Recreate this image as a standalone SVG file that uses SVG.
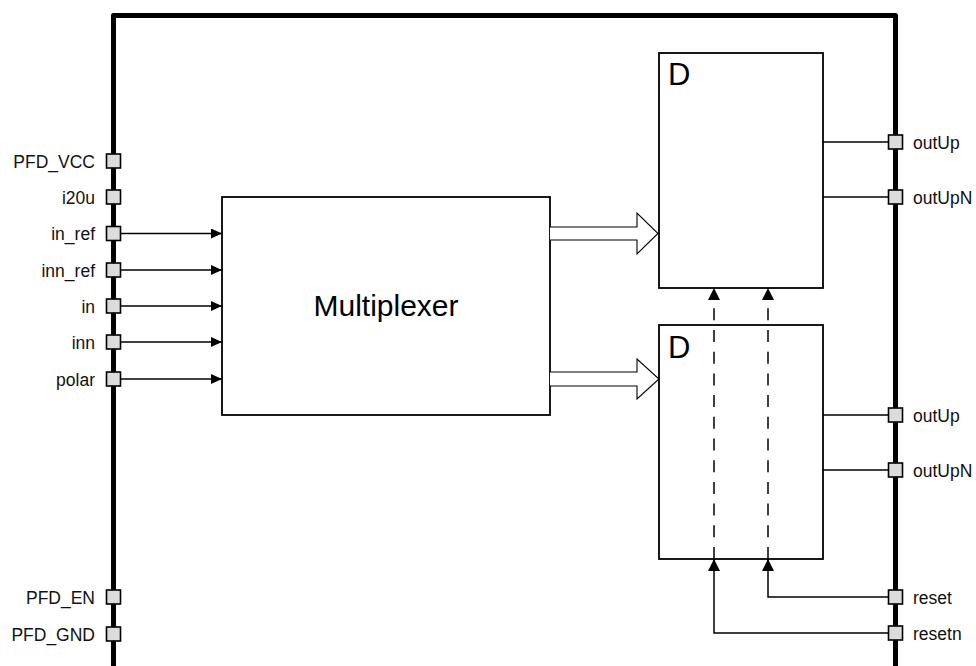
<svg xmlns="http://www.w3.org/2000/svg" width="976" height="666" viewBox="0 0 976 666">
  <defs>
    <style>
      .frame { fill: none; stroke: #000; stroke-width: 5; stroke-linejoin: round; }
      .box { fill: #fff; stroke: #000; stroke-width: 1.8; }
      .port { fill: #dcdcdc; stroke: #000; stroke-width: 1.6; }
      .wire { fill: none; stroke: #000; stroke-width: 1.5; }
      .dash { fill: none; stroke: #000; stroke-width: 1.5; stroke-dasharray: 12 9.7; }
      .bus { fill: #fff; stroke: #000; stroke-width: 1.1; }
      .lbl { font-family: "Liberation Sans", Arial, sans-serif; font-size: 17.5px; fill: #111; }
      .lblL { text-anchor: end; }
      .big { font-family: "Liberation Sans", Arial, sans-serif; font-size: 30px; fill: #000; }
    </style>
    <marker id="arr" viewBox="0 0 12 12" markerWidth="12" markerHeight="12" refX="12" refY="6" orient="auto" markerUnits="userSpaceOnUse">
      <path d="M0,0 L12,6 L0,12 Z" fill="#000"/>
    </marker>
    <marker id="arrS" viewBox="0 0 11 10" markerWidth="11" markerHeight="10" refX="11" refY="5" orient="auto" markerUnits="userSpaceOnUse">
      <path d="M0,0 L11,5 L0,10 Z" fill="#000"/>
    </marker>
  </defs>

  <!-- outer module boundary -->
  <g id="frame">
    <path class="frame" d="M113.5,666 V15.5 H895.5 V666"/>
  </g>

  <!-- blocks -->
  <g id="mux">
    <rect class="box" x="222" y="197" width="328" height="218"/>
    <text class="big" x="386" y="316" text-anchor="middle">Multiplexer</text>
  </g>
  <g id="dff_top">
    <rect class="box" x="659" y="53" width="164" height="235"/>
    <text class="big" x="668" y="85" style="font-size:31px">D</text>
  </g>
  <g id="dff_bottom">
    <rect class="box" x="659" y="325" width="164" height="234"/>
    <text class="big" x="668" y="358" style="font-size:31px">D</text>
  </g>

  <!-- connectors -->
  <g id="connectors">
    <!-- inputs into the multiplexer -->
    <line class="wire" x1="120" y1="233.5" x2="222" y2="233.5" marker-end="url(#arrS)"/>
    <line class="wire" x1="120" y1="270" x2="222" y2="270" marker-end="url(#arrS)"/>
    <line class="wire" x1="120" y1="306" x2="222" y2="306" marker-end="url(#arrS)"/>
    <line class="wire" x1="120" y1="342" x2="222" y2="342" marker-end="url(#arrS)"/>
    <line class="wire" x1="120" y1="379" x2="222" y2="379" marker-end="url(#arrS)"/>

    <!-- bus arrows to the flip-flops -->
    <polyline class="bus" points="550,227 637,227 637,213 658,233.5 637,254 637,240 550,240"/>
    <polyline class="bus" points="550,372 637,372 637,359 659,379 637,399 637,386 550,386"/>

    <!-- outputs -->
    <line class="wire" x1="823" y1="142" x2="888" y2="142"/>
    <line class="wire" x1="823" y1="197" x2="888" y2="197"/>
    <line class="wire" x1="823" y1="415" x2="888" y2="415"/>
    <line class="wire" x1="823" y1="470" x2="888" y2="470"/>

    <!-- reset lines -->
    <path class="wire" d="M888,597 H768 V559" marker-end="url(#arr)"/>
    <path class="wire" d="M888,633 H714 V559" marker-end="url(#arr)"/>
    <line class="dash" x1="714" y1="559" x2="714" y2="300"/>
    <line class="dash" x1="768" y1="559" x2="768" y2="300"/>
    <path d="M708,300 L714,288 L720,300 Z" fill="#000"/>
    <path d="M762,300 L768,288 L774,300 Z" fill="#000"/>
  </g>

  <!-- left ports -->
  <g id="port_PFD_VCC"><rect class="port" x="106.5" y="154" width="14" height="14"/><text class="lbl lblL" x="95" y="167.5">PFD_VCC</text></g>
  <g id="port_i20u"><rect class="port" x="106.5" y="190" width="14" height="14"/><text class="lbl lblL" x="95" y="203.5">i20u</text></g>
  <g id="port_in_ref"><rect class="port" x="106.5" y="226.5" width="14" height="14"/><text class="lbl lblL" x="95" y="240">in_ref</text></g>
  <g id="port_inn_ref"><rect class="port" x="106.5" y="263" width="14" height="14"/><text class="lbl lblL" x="95" y="276.5">inn_ref</text></g>
  <g id="port_in"><rect class="port" x="106.5" y="299" width="14" height="14"/><text class="lbl lblL" x="95" y="312.5">in</text></g>
  <g id="port_inn"><rect class="port" x="106.5" y="335" width="14" height="14"/><text class="lbl lblL" x="95" y="348.5">inn</text></g>
  <g id="port_polar"><rect class="port" x="106.5" y="372" width="14" height="14"/><text class="lbl lblL" x="95" y="385.5">polar</text></g>
  <g id="port_PFD_EN"><rect class="port" x="106.5" y="590" width="14" height="14"/><text class="lbl lblL" x="95" y="603.5">PFD_EN</text></g>
  <g id="port_PFD_GND"><rect class="port" x="106.5" y="627" width="14" height="14"/><text class="lbl lblL" x="95" y="640.5">PFD_GND</text></g>

  <!-- right ports -->
  <g id="port_outUp_1"><rect class="port" x="888.5" y="135" width="14" height="14"/><text class="lbl" x="913" y="148.5">outUp</text></g>
  <g id="port_outUpN_1"><rect class="port" x="888.5" y="190" width="14" height="14"/><text class="lbl" x="913" y="203.5">outUpN</text></g>
  <g id="port_outUp_2"><rect class="port" x="888.5" y="408" width="14" height="14"/><text class="lbl" x="913" y="421.5">outUp</text></g>
  <g id="port_outUpN_2"><rect class="port" x="888.5" y="463" width="14" height="14"/><text class="lbl" x="913" y="476.5">outUpN</text></g>
  <g id="port_reset"><rect class="port" x="888.5" y="590" width="14" height="14"/><text class="lbl" x="913" y="603.5">reset</text></g>
  <g id="port_resetn"><rect class="port" x="888.5" y="626" width="14" height="14"/><text class="lbl" x="913" y="639.5">resetn</text></g>
</svg>
